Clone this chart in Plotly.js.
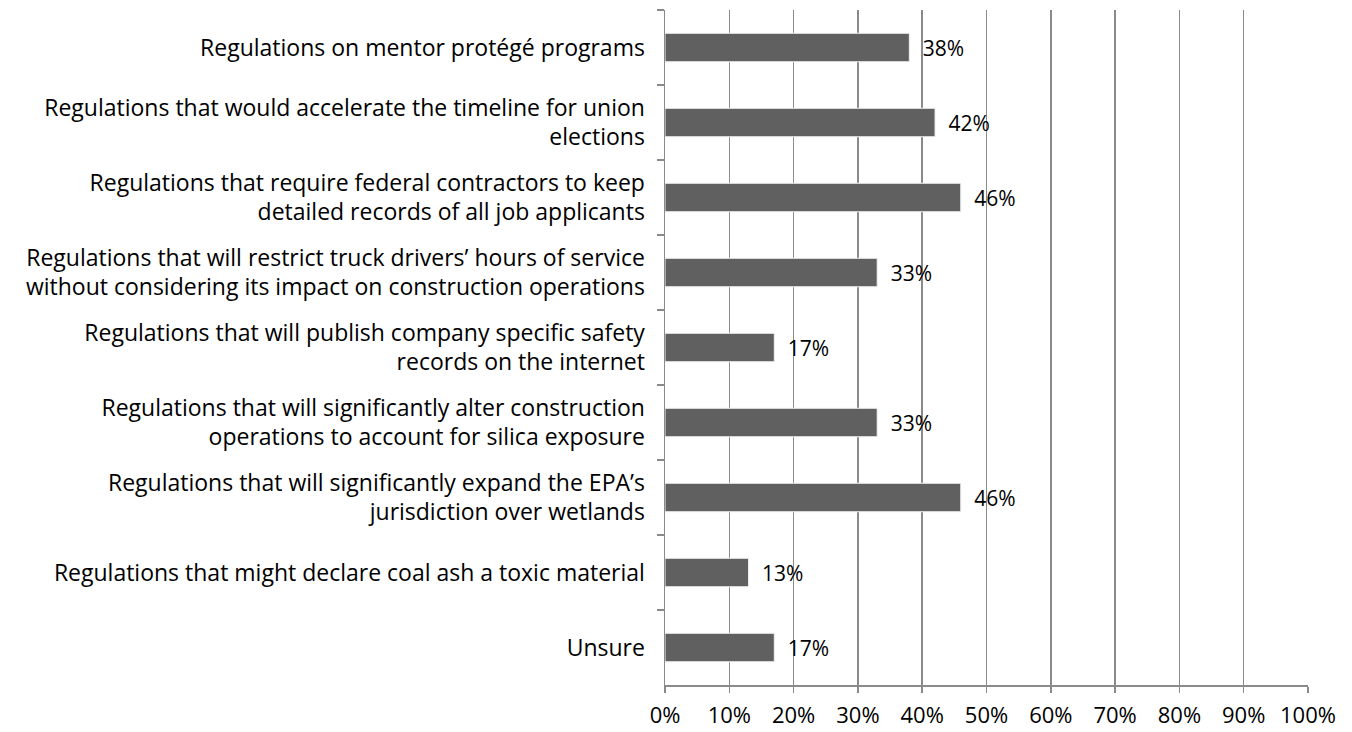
<!DOCTYPE html>
<html><head><meta charset="utf-8">
<script src="https://cdn.plot.ly/plotly-3.0.1.min.js"></script>
<style>body{margin:0;background:#fff}#chart{width:1352px;height:732px}</style>
</head><body><div id="chart"></div>
<script>
const categories = [
  "Regulations on mentor protégé programs",
  "Regulations that would accelerate the timeline for union<br>elections",
  "Regulations that require federal contractors to keep<br>detailed records of all job applicants",
  "Regulations that will restrict truck drivers’ hours of service<br>without considering its impact on construction operations",
  "Regulations that will publish company specific safety<br>records on the internet",
  "Regulations that will significantly alter construction<br>operations to account for silica exposure",
  "Regulations that will significantly expand the EPA’s<br>jurisdiction over wetlands",
  "Regulations that might declare coal ash a toxic material",
  "Unsure"
];
const values = [0.38, 0.42, 0.46, 0.33, 0.17, 0.33, 0.46, 0.13, 0.17];
const tickVals = [0,0.1,0.2,0.3,0.4,0.5,0.6,0.7,0.8,0.9,1.0];
const tickText = ["0%","10%","20%","30%","40%","50%","60%","70%","80%","90%","100%"];

const font = "'Open Sans', 'Noto Sans', sans-serif";
const trace = {
  type: "bar", orientation: "h",
  x: values, y: categories,
  marker: {color: "#606060", line: {color: "#f2f2f2", width: 1}},
  text: values.map(v => "\u2002" + Math.round(v*100) + "%"),
  textposition: "outside", cliponaxis: false,
  textfont: {family: font, size: 21, color: "#000"},
  hoverinfo: "none"
};
const layout = {
  width: 1352, height: 732,
  margin: {l: 665, r: 44, t: 10, b: 47},
  paper_bgcolor: "#fff", plot_bgcolor: "#fff",
  showlegend: false, bargap: 0.62,
  font: {family: font, size: 22, color: "#000"},
  xaxis: {
    range: [0, 1], tickvals: tickVals, ticktext: tickText,
    showgrid: true, gridcolor: "#8a8a8a", gridwidth: 1.5,
    showline: true, linecolor: "#8a8a8a", linewidth: 1.5,
    ticks: "outside", ticklen: 6, tickcolor: "#8a8a8a", tickwidth: 1.5,
    ticklabelstandoff: 4,
    zeroline: false, fixedrange: true,
    tickfont: {family: font, size: 22, color: "#000"}
  },
  yaxis: {
    autorange: "reversed", type: "category",
    showline: true, linecolor: "#8a8a8a", linewidth: 1.5,
    ticks: "outside", ticklen: 7, tickcolor: "#8a8a8a", tickwidth: 1.5, tickson: "boundaries",
    showgrid: false, zeroline: false, fixedrange: true,
    ticklabelstandoff: 14,
    tickfont: {family: font, size: 23, color: "#000"}
  }
};
Plotly.newPlot("chart", [trace], layout, {displayModeBar: false, staticPlot: true});
</script></body></html>
